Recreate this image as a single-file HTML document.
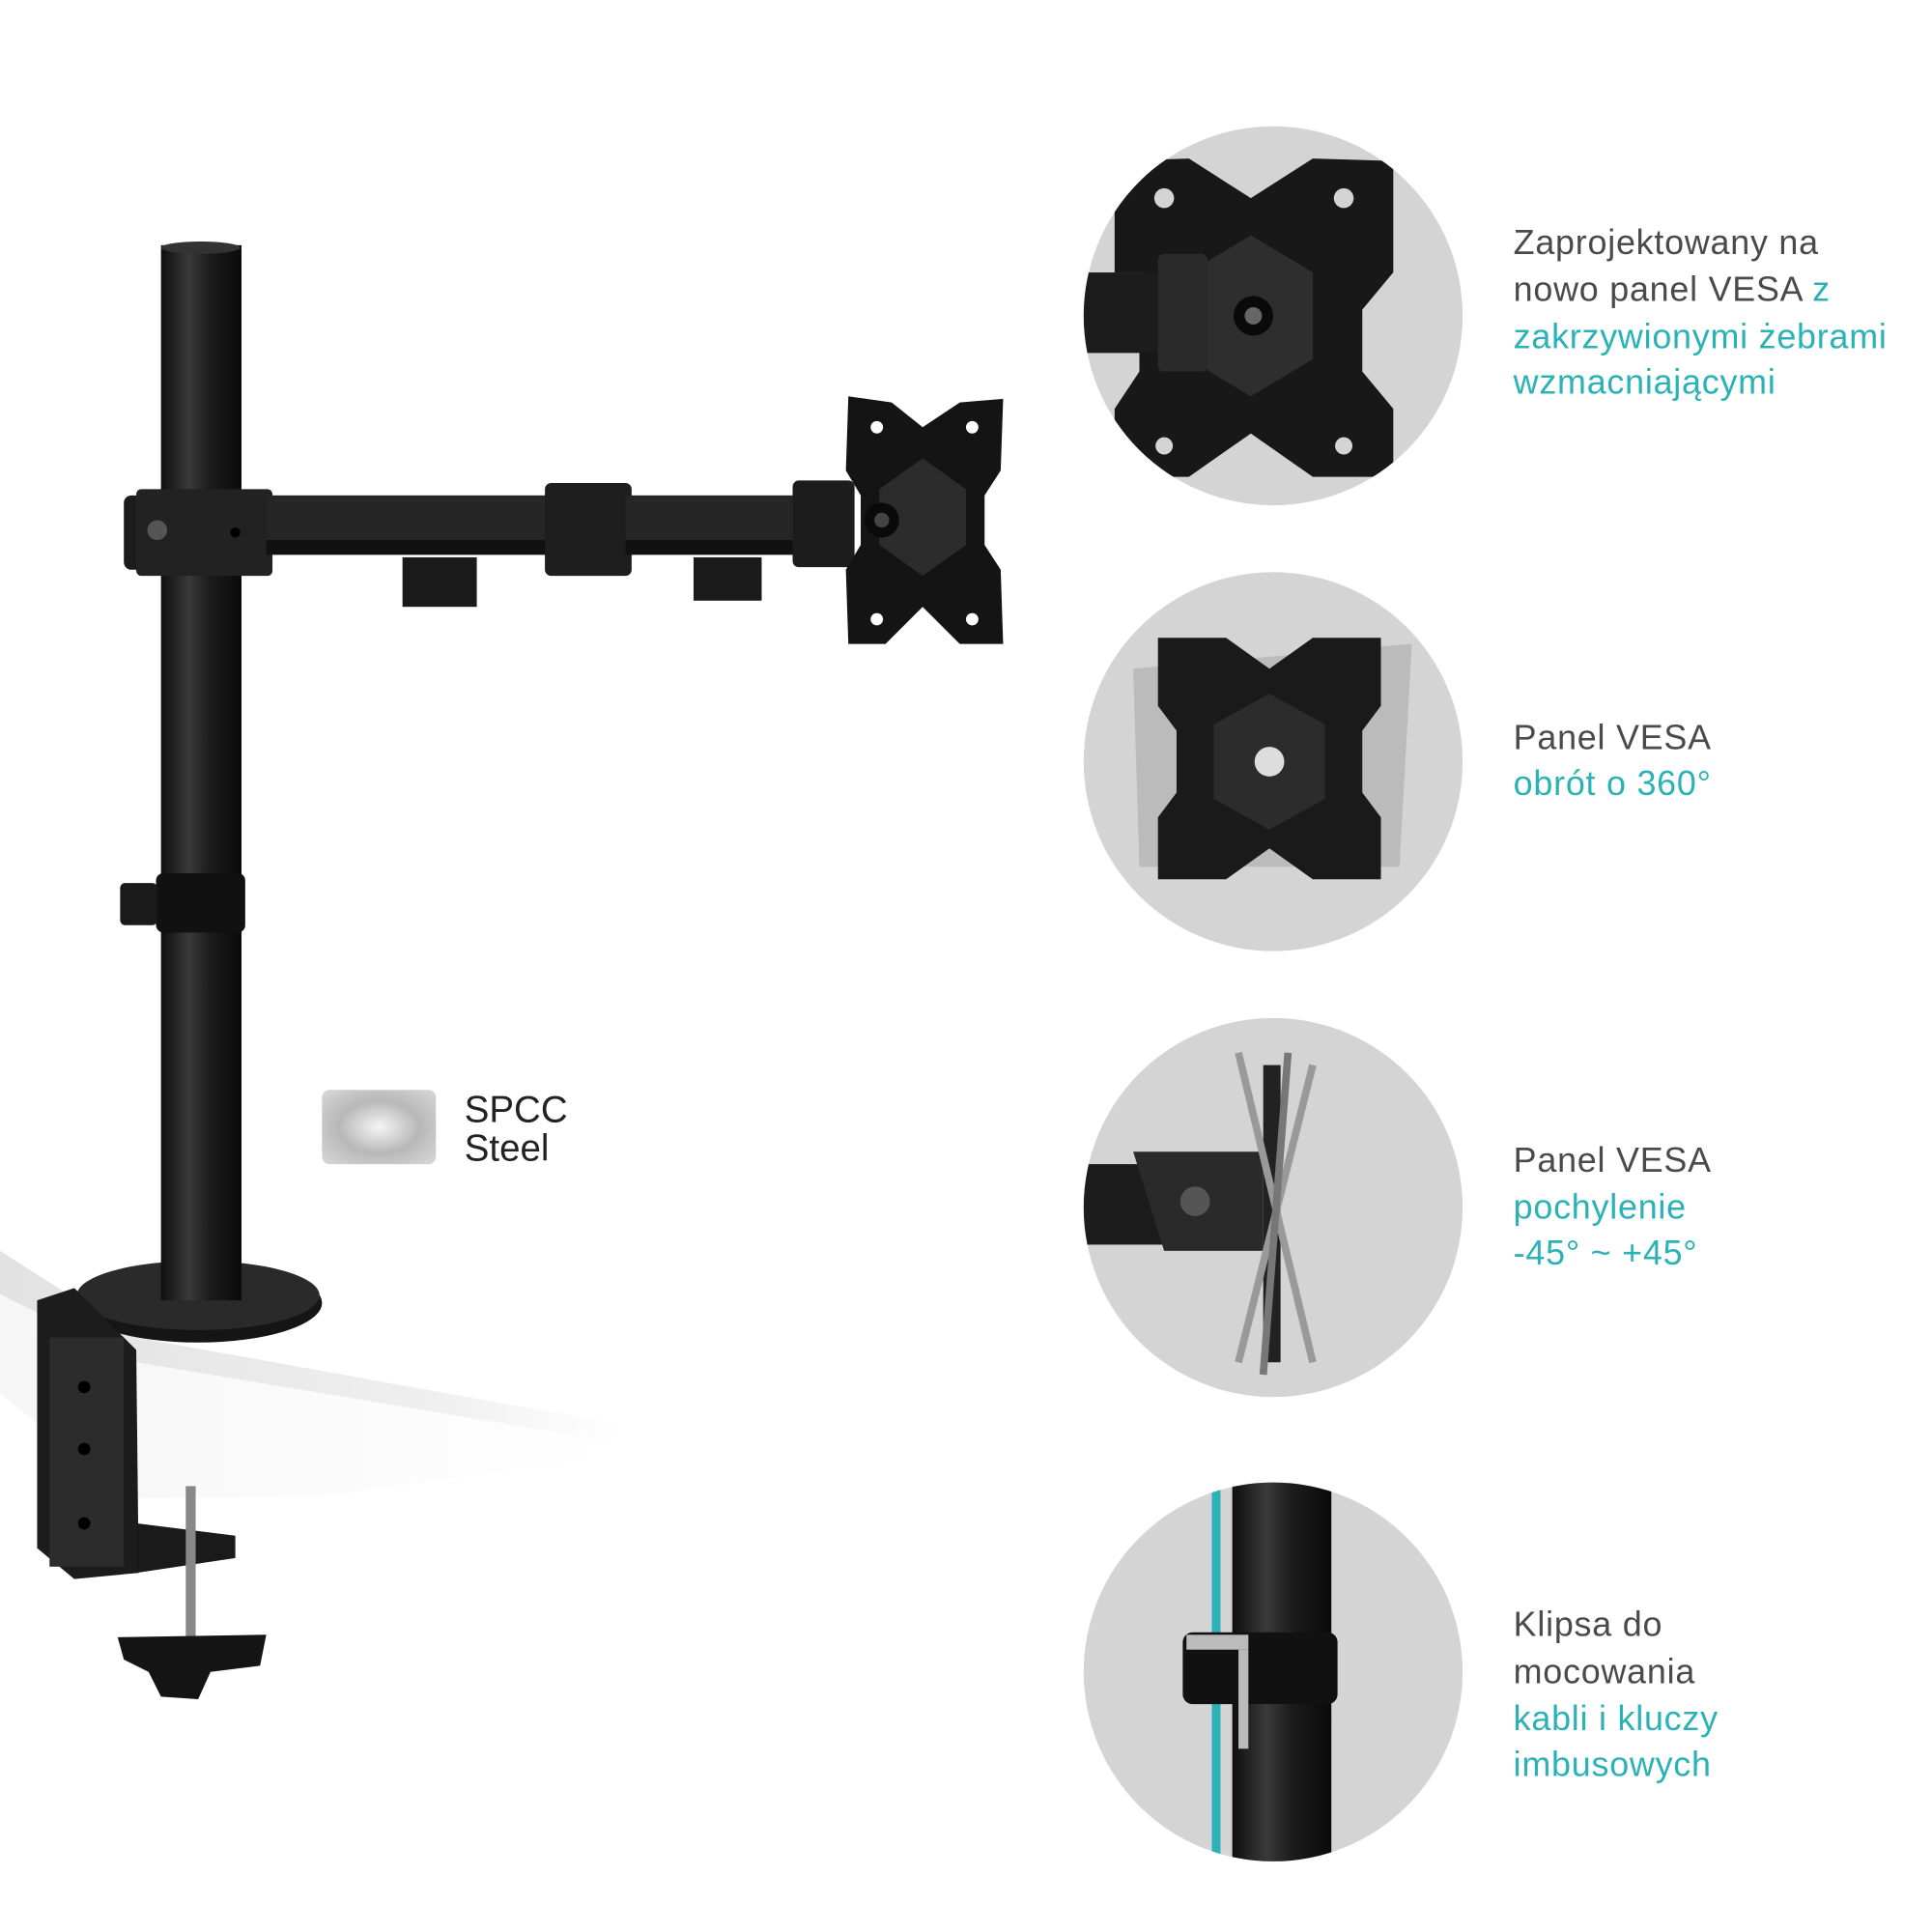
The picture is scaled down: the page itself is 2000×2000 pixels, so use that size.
<!DOCTYPE html>
<html><head><meta charset="utf-8"><style>
html,body{margin:0;padding:0;background:#fff;width:2000px;height:2000px;overflow:hidden}
svg{display:block}
text{font-family:"Liberation Sans",sans-serif}
.g{fill:#4a4a4a}.t{fill:#2ab2b6}
</style></head><body>
<svg width="2000" height="2000" viewBox="0 0 1560 1560" xmlns="http://www.w3.org/2000/svg">
<defs>
<linearGradient id="pole" x1="0" x2="1"><stop offset="0" stop-color="#0e0e0e"/><stop offset=".35" stop-color="#3a3a3a"/><stop offset=".6" stop-color="#1c1c1c"/><stop offset="1" stop-color="#0a0a0a"/></linearGradient>
<linearGradient id="desk" x1="0" x2="1"><stop offset="0" stop-color="#e2e2e2"/><stop offset=".7" stop-color="#efefef"/><stop offset="1" stop-color="#fff"/></linearGradient>
<linearGradient id="face" x1="0" x2="1"><stop offset="0" stop-color="#f6f6f6"/><stop offset="1" stop-color="#fff"/></linearGradient>
<radialGradient id="steel" cx=".5" cy=".5" r=".7"><stop offset="0" stop-color="#f5f5f5"/><stop offset=".5" stop-color="#b8b8b8"/><stop offset="1" stop-color="#d8d8d8"/></radialGradient>
<clipPath id="c1"><circle cx="1028" cy="255" r="153"/></clipPath>
<clipPath id="c2"><circle cx="1028" cy="615" r="153"/></clipPath>
<clipPath id="c3"><circle cx="1028" cy="975" r="153"/></clipPath>
<clipPath id="c4"><circle cx="1028" cy="1350" r="153"/></clipPath>
</defs>

<!-- desk -->
<polygon points="0,1010 110,1080 500,1150 500,1165 110,1100 0,1045" fill="url(#desk)"/>
<polygon points="0,1045 110,1100 500,1165 500,1175 260,1208 105,1210 0,1125" fill="url(#face)"/>

<!-- base disc -->
<ellipse cx="160" cy="1052" rx="100" ry="32" fill="#151515"/>
<ellipse cx="160" cy="1046" rx="98" ry="28" fill="#2a2a2a"/>
<!-- pole -->
<rect x="130" y="198" width="65" height="852" fill="url(#pole)"/>
<ellipse cx="162" cy="200" rx="32" ry="5" fill="#333"/>
<!-- clip on pole -->
<rect x="126" y="705" width="72" height="48" rx="6" fill="#111"/>
<rect x="97" y="713" width="30" height="34" rx="4" fill="#1a1a1a"/>

<!-- clamp -->
<polygon points="30,1050 60,1040 110,1090 112,1270 60,1275 30,1250" fill="#1c1c1c"/>
<rect x="40" y="1080" width="60" height="185" fill="#2c2c2c"/>
<circle cx="68" cy="1120" r="5" fill="#000"/><circle cx="68" cy="1170" r="5" fill="#000"/><circle cx="68" cy="1230" r="5" fill="#000"/>
<polygon points="110,1230 190,1240 190,1258 110,1270" fill="#1a1a1a"/>
<rect x="150" y="1200" width="8" height="130" fill="#888"/>
<path d="M95 1322 L215 1320 L210 1345 L170 1350 L160 1372 L130 1370 L120 1350 L100 1340Z" fill="#141414"/>

<!-- arm -->
<rect x="100" y="400" width="40" height="60" rx="6" fill="#1b1b1b"/>
<rect x="110" y="395" width="110" height="70" rx="4" fill="#222"/>
<circle cx="127" cy="428" r="8" fill="#555"/><circle cx="190" cy="430" r="4" fill="#000"/>
<rect x="215" y="400" width="280" height="40" fill="#262626"/>
<rect x="215" y="436" width="280" height="12" fill="#111"/>
<rect x="325" y="450" width="60" height="40" fill="#1a1a1a"/>
<rect x="440" y="390" width="70" height="75" rx="5" fill="#1e1e1e"/>
<rect x="505" y="400" width="180" height="40" fill="#262626"/>
<rect x="505" y="436" width="180" height="12" fill="#111"/>
<rect x="560" y="450" width="55" height="35" fill="#1a1a1a"/>
<rect x="640" y="388" width="50" height="70" rx="5" fill="#1c1c1c"/>
<!-- vesa plate -->
<path d="M685 320 L720 325 L745 345 L775 325 L810 322 L808 380 L795 400 L795 440 L808 460 L810 520 L775 520 L745 490 L715 520 L685 520 L683 460 L695 440 L695 400 L683 380Z" fill="#141414"/>
<polygon points="745,370 780,395 780,440 745,465 710,440 710,395" fill="#2c2c2c"/>
<circle cx="712" cy="420" r="14" fill="#0a0a0a"/><circle cx="712" cy="420" r="6" fill="#444"/>
<circle cx="708" cy="345" r="5" fill="#fff"/><circle cx="785" cy="345" r="5" fill="#fff"/><circle cx="708" cy="500" r="5" fill="#fff"/><circle cx="785" cy="500" r="5" fill="#fff"/>

<!-- SPCC -->
<rect x="260" y="880" width="92" height="60" rx="6" fill="url(#steel)"/>
<text x="375" y="906" font-size="30" fill="#222">SPCC</text>
<text x="375" y="937" font-size="30" fill="#222">Steel</text>

<!-- circles -->
<circle cx="1028" cy="255" r="153" fill="#d4d4d4"/>
<g clip-path="url(#c1)">
<path d="M900 130 L960 128 L1010 160 L1060 128 L1125 130 L1125 220 L1100 250 L1100 300 L1125 330 L1125 385 L1060 385 L1010 350 L960 385 L900 385 L900 330 L920 300 L920 220 L900 220Z" fill="#181818"/>
<polygon points="1010,190 1060,220 1060,290 1010,320 960,290 960,220" fill="#2e2e2e"/>
<rect x="870" y="220" width="90" height="65" fill="#1c1c1c"/>
<rect x="935" y="205" width="40" height="95" rx="5" fill="#2a2a2a"/>
<circle cx="1012" cy="255" r="16" fill="#0a0a0a"/><circle cx="1012" cy="255" r="7" fill="#666"/>
<circle cx="940" cy="160" r="8" fill="#d4d4d4"/><circle cx="1085" cy="160" r="8" fill="#d4d4d4"/><circle cx="940" cy="360" r="7" fill="#d4d4d4"/><circle cx="1085" cy="360" r="7" fill="#d4d4d4"/>
</g>
<circle cx="1028" cy="615" r="153" fill="#d4d4d4"/>
<g clip-path="url(#c2)">
<path d="M915 540 L1140 520 L1130 700 L920 700Z" fill="#aaa" opacity=".6"/>
<path d="M935 515 L990 515 L1025 540 L1060 515 L1115 515 L1115 570 L1100 590 L1100 640 L1115 660 L1115 710 L1060 710 L1025 685 L990 710 L935 710 L935 660 L950 640 L950 590 L935 570Z" fill="#1a1a1a"/>
<polygon points="1025,560 1070,585 1070,645 1025,670 980,645 980,585" fill="#2c2c2c"/>
<circle cx="1025" cy="615" r="12" fill="#ddd"/>
</g>
<circle cx="1028" cy="975" r="153" fill="#d4d4d4"/>
<g clip-path="url(#c3)">
<rect x="870" y="940" width="70" height="65" fill="#1c1c1c"/>
<polygon points="915,930 1020,930 1020,1010 940,1010" fill="#2a2a2a"/>
<circle cx="965" cy="970" r="12" fill="#555"/>
<rect x="1020" y="860" width="14" height="240" fill="#222"/>
<line x1="1000" y1="850" x2="1060" y2="1100" stroke="#999" stroke-width="6"/>
<line x1="1060" y1="860" x2="1000" y2="1100" stroke="#999" stroke-width="6"/>
<line x1="1040" y1="850" x2="1020" y2="1110" stroke="#777" stroke-width="6"/>
</g>
<circle cx="1028" cy="1350" r="153" fill="#d4d4d4"/>
<g clip-path="url(#c4)">
<rect x="995" y="1195" width="80" height="320" fill="url(#pole)"/>
<path d="M982 1195 L982 1510" stroke="#2ab2b6" stroke-width="7" fill="none"/>
<rect x="955" y="1318" width="125" height="58" rx="8" fill="#111"/>
<rect x="958" y="1320" width="50" height="12" fill="#bbb"/>
<rect x="1000" y="1332" width="8" height="80" fill="#bbb"/>
</g>

<!-- texts -->
<g font-size="28" letter-spacing="0.6">
<text x="1222" y="205" class="g">Zaprojektowany na</text>
<text x="1222" y="243"><tspan class="g">nowo panel VESA </tspan><tspan class="t">z</tspan></text>
<text x="1222" y="281" class="t">zakrzywionymi żebrami</text>
<text x="1222" y="318" class="t">wzmacniającymi</text>
<text x="1222" y="605" class="g">Panel VESA</text>
<text x="1222" y="642" class="t">obrót o 360°</text>
<text x="1222" y="946" class="g">Panel VESA</text>
<text x="1222" y="984" class="t">pochylenie</text>
<text x="1222" y="1021" class="t">-45° ~ +45°</text>
<text x="1222" y="1321" class="g">Klipsa do</text>
<text x="1222" y="1359" class="g">mocowania</text>
<text x="1222" y="1397" class="t">kabli i kluczy</text>
<text x="1222" y="1434" class="t">imbusowych</text>
</g>
</svg>
</body></html>
